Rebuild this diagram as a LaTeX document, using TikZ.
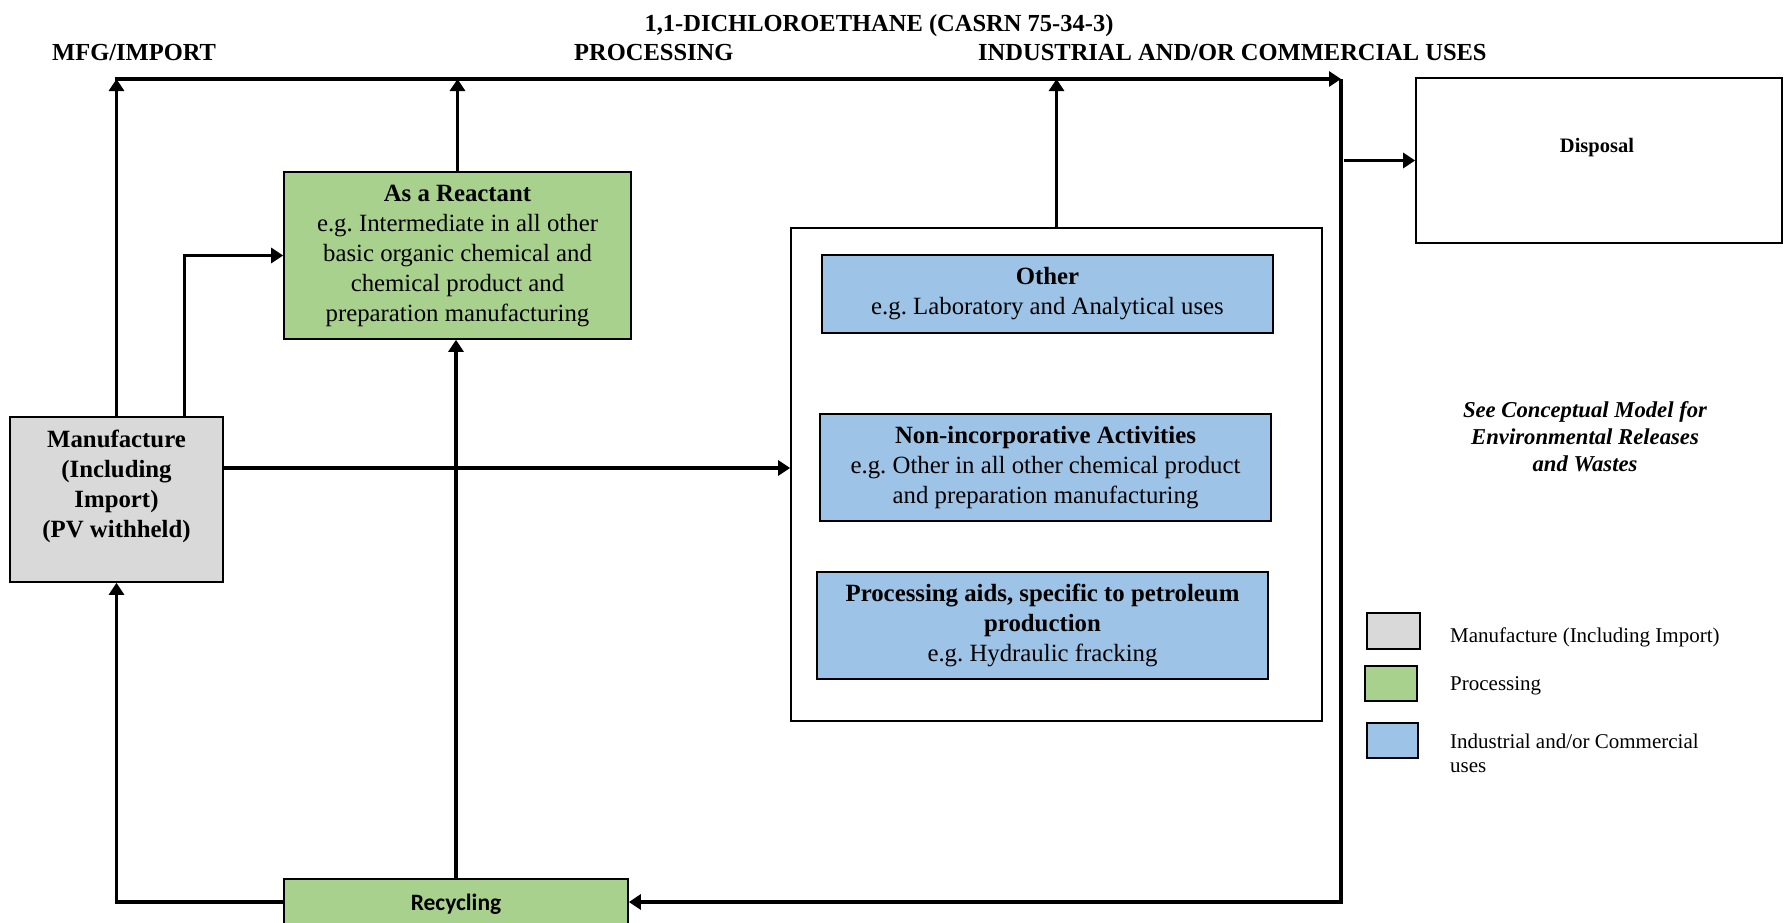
\documentclass[tikz,border=0pt]{standalone}
\usepackage{fontspec}
\setmainfont{Liberation Serif}
\newfontfamily\recfont{Carlito}
\usetikzlibrary{arrows.meta,calc}

\definecolor{mfggray}{HTML}{D9D9D9}
\definecolor{procgreen}{HTML}{A9D18E}
\definecolor{useblue}{HTML}{9DC3E6}

\newcommand\bxfont{\fontsize{24.8}{30}\selectfont}
\newcommand\hdfont{\fontsize{24.5}{29}\selectfont\bfseries}
\newcommand\lgfont{\fontsize{21}{24}\selectfont}

\begin{document}
\frenchspacing
\begin{tikzpicture}[x=1pt,y=-1pt,
  conn/.style={line width=3.1pt},
  tip/.style={-{Triangle[length=12pt,width=15pt]}},
  box/.style={draw, line width=1.7pt, inner sep=0pt, align=center, font=\bxfont},
  mfgbox/.style={box, fill=mfggray},
  procbox/.style={box, fill=procgreen},
  usebox/.style={box, fill=useblue},
  plainbox/.style={box, fill=white},
  header/.style={inner sep=0pt, font=\hdfont},
  legtext/.style={inner sep=0pt, anchor=base west, font=\lgfont, align=left}]

\clip (0,0) rectangle (1784,922);
\fill[white] (0,0) rectangle (1784,922);

% headings
\node[header, anchor=base] (title) at (879,31) {1,1-DICHLOROETHANE (CASRN 75-34-3)};
\node[header, anchor=base west] (hmfg) at (52,60) {MFG/IMPORT};
\node[header, anchor=base west] (hproc) at (574,60) {PROCESSING};
\node[header, anchor=base west] (huse) at (978,60) {INDUSTRIAL AND/OR COMMERCIAL USES};

% life-cycle boxes
\node[mfgbox, minimum width=213, minimum height=165] (manuf) at (116.5,499.5) {};
\node[inner sep=0pt, align=center, font=\bxfont\bfseries, anchor=north] (manuftxt) at (116.5,430)
  {Manufacture\\(Including\\Import)\\(PV withheld)};

\node[procbox, minimum width=347, minimum height=167] (reactant) at (457.5,255.5)
  {\textbf{As a Reactant}\\e.g. Intermediate in all other\\basic organic chemical and\\chemical product and\\preparation manufacturing};

\node[procbox, minimum width=344, minimum height=46] (recycling) at (456,902) {};
\node[inner sep=0pt, anchor=base, font=\fontsize{23.5}{28}\selectfont\recfont\bfseries] (recytxt) at (456,910) {Recycling};

\node[plainbox, minimum width=531, minimum height=493] (bigbox) at (1056.5,474.5) {};
\node[usebox, minimum width=451, minimum height=78] (other) at (1047.5,294)
  {\textbf{Other}\\e.g. Laboratory and Analytical uses};
\node[usebox, minimum width=451, minimum height=107] (nonincorp) at (1045.5,467.5)
  {\textbf{Non-incorporative Activities}\\e.g. Other in all other chemical product\\and preparation manufacturing};
\node[usebox, minimum width=451, minimum height=107] (procaids) at (1042.5,625.5)
  {\textbf{Processing aids, specific to petroleum}\\\textbf{production}\\e.g. Hydraulic fracking};

\node[plainbox, minimum width=366, minimum height=165] (disposal) at (1599,160.5) {};
\node[inner sep=0pt, anchor=base, font=\fontsize{20.5}{24}\selectfont\bfseries] (disptxt) at (1597,152) {Disposal};

% note on releases
\node[inner sep=0pt, align=center, font=\fontsize{22.7}{27}\selectfont\bfseries\itshape] (note) at (1585,437)
  {See Conceptual Model for\\Environmental Releases\\and Wastes};

% legend
\node[mfgbox, minimum width=53, minimum height=36] (leg1) at (1393.5,631) {};
\node[procbox, minimum width=52, minimum height=35] (leg2) at (1391,683.5) {};
\node[usebox, minimum width=51, minimum height=35] (leg3) at (1392.5,740.5) {};
\node[legtext] (leg1txt) at (1450,642) {Manufacture (Including Import)};
\node[legtext] (leg2txt) at (1450,690) {Processing};
\node[legtext] (leg3txt) at (1450,772) {Industrial and/or Commercial\\uses};

% connectors
\coordinate (tl) at (115,79);
\coordinate (tr) at (1341,79);
\coordinate (mrow) at (0,468);

\draw[conn, tip] (manuf.north) -- (manuf.north |- tl);
\draw[conn, tip] (tl) -- (tr);
\draw[conn, tip] (reactant.north) -- (reactant.north |- tl);
\draw[conn, tip] (bigbox.north) -- (bigbox.north |- tl);
\draw[conn, tip] ([xshift=68]manuf.north) |- (reactant.west);
\draw[conn, tip] (manuf.east |- mrow) -- (bigbox.west |- mrow);
\draw[conn, tip] (recycling.north) -- (recycling.north |- reactant.south);
\draw[conn, tip] (recycling.west) -| (manuf.south);
\draw[conn, tip] (tr) |- (recycling.east);
\draw[conn, tip] ([xshift=3]tr |- disposal.west) -- (disposal.west);

\end{tikzpicture}
\end{document}
